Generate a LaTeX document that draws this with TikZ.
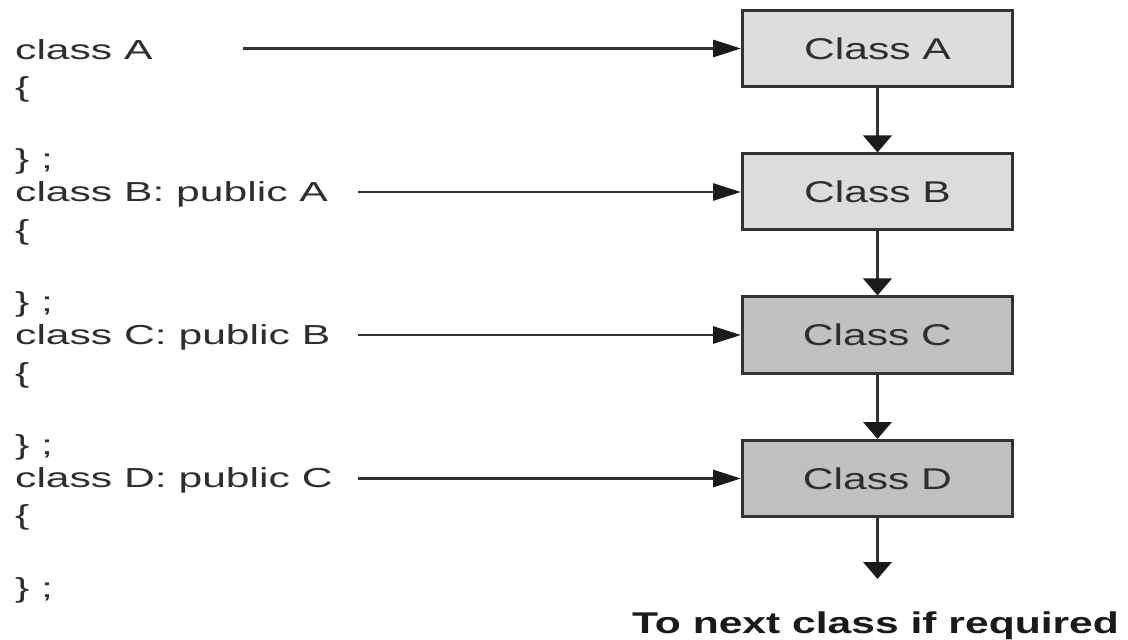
\documentclass[tikz,border=0pt]{standalone}
\usepackage{fontspec}
\setmainfont{Liberation Sans}
\newfontfamily\codefont[FakeStretch=1.55]{Liberation Sans}
\newfontfamily\boxfont[FakeStretch=1.42]{Liberation Sans}
\usetikzlibrary{arrows.meta}
\definecolor{boxlight}{HTML}{DCDCDC}
\definecolor{boxdark}{HTML}{C0C0C0}
\definecolor{linegray}{HTML}{333333}
\definecolor{textgray}{HTML}{2E2E2E}
\definecolor{tipblack}{HTML}{1A1A1A}
\tikzset{
  codeline/.style={anchor=base west, inner sep=0pt, text=textgray,
    font=\codefont\fontsize{27.5bp}{33bp}\selectfont},
  classbox/.style={draw=linegray, line width=3bp, minimum width=270bp,
    minimum height=76bp, inner sep=0pt, text=textgray,
    font=\boxfont\fontsize{30bp}{36bp}\selectfont},
  toarrow/.style={draw=linegray, line width=2.8bp,
    -{Triangle[length=28bp,width=17bp,color=tipblack]}},
  downarrow/.style={draw=linegray, line width=3.8bp,
    -{Triangle[length=17bp,width=28bp,color=tipblack]}},
}
\begin{document}
\begin{tikzpicture}[x=1bp, y=-1bp]
        % Page
        \fill[white] (0,0) rectangle (1128,640);
        \useasboundingbox (0,0) rectangle (1128,640);
        % Class boxes
        \node[classbox, fill=boxlight] (clsA) at (877.5,48.5) {Class A};
        \node[classbox, fill=boxlight] (clsB) at (877.5,192) {Class B};
        \node[classbox, fill=boxdark] (clsC) at (877.5,335) {Class C};
        \node[classbox, fill=boxdark] (clsD) at (877.5,478.5) {Class D};
        % Code lines
        \node[codeline] (codeA) at (15,59.5) {class A};
        \node[codeline] (openA) at (15,97) {\{};
        \node[codeline] (closeA) at (15,169) {\} ;};
        \node[codeline] (codeB) at (15,202) {class B: public A};
        \node[codeline] (openB) at (15,239.5) {\{};
        \node[codeline] (closeB) at (15,311.5) {\} ;};
        \node[codeline] (codeC) at (15,344.5) {class C: public B};
        \node[codeline] (openC) at (15,382) {\{};
        \node[codeline] (closeC) at (15,454) {\} ;};
        \node[codeline] (codeD) at (15,487) {class D: public C};
        \node[codeline] (openD) at (15,524.5) {\{};
        \node[codeline] (closeD) at (15,597) {\} ;};
        % Define points
        \coordinate (startA) at (243,48.5);
        \coordinate (startB) at (358,192);
        \coordinate (startC) at (358,335);
        \coordinate (startD) at (358,478.5);
        \coordinate (nextend) at (877.5,579);
        % Code to box
        \draw[toarrow] (startA) -- (clsA.west);
        \draw[toarrow] (startB) -- (clsB.west);
        \draw[toarrow] (startC) -- (clsC.west);
        \draw[toarrow] (startD) -- (clsD.west);
        % Box to box
        \draw[downarrow] (clsA.south) -- (clsB.north);
        \draw[downarrow] (clsB.south) -- (clsC.north);
        \draw[downarrow] (clsC.south) -- (clsD.north);
        \draw[downarrow] (clsD.south) -- (nextend);
        \node[anchor=base, inner sep=0pt, text=tipblack,
          font=\boxfont\bfseries\fontsize{30bp}{36bp}\selectfont]
          (nexttxt) at (875.5,633) {To next class if required};
    \end{tikzpicture}
\end{document}
